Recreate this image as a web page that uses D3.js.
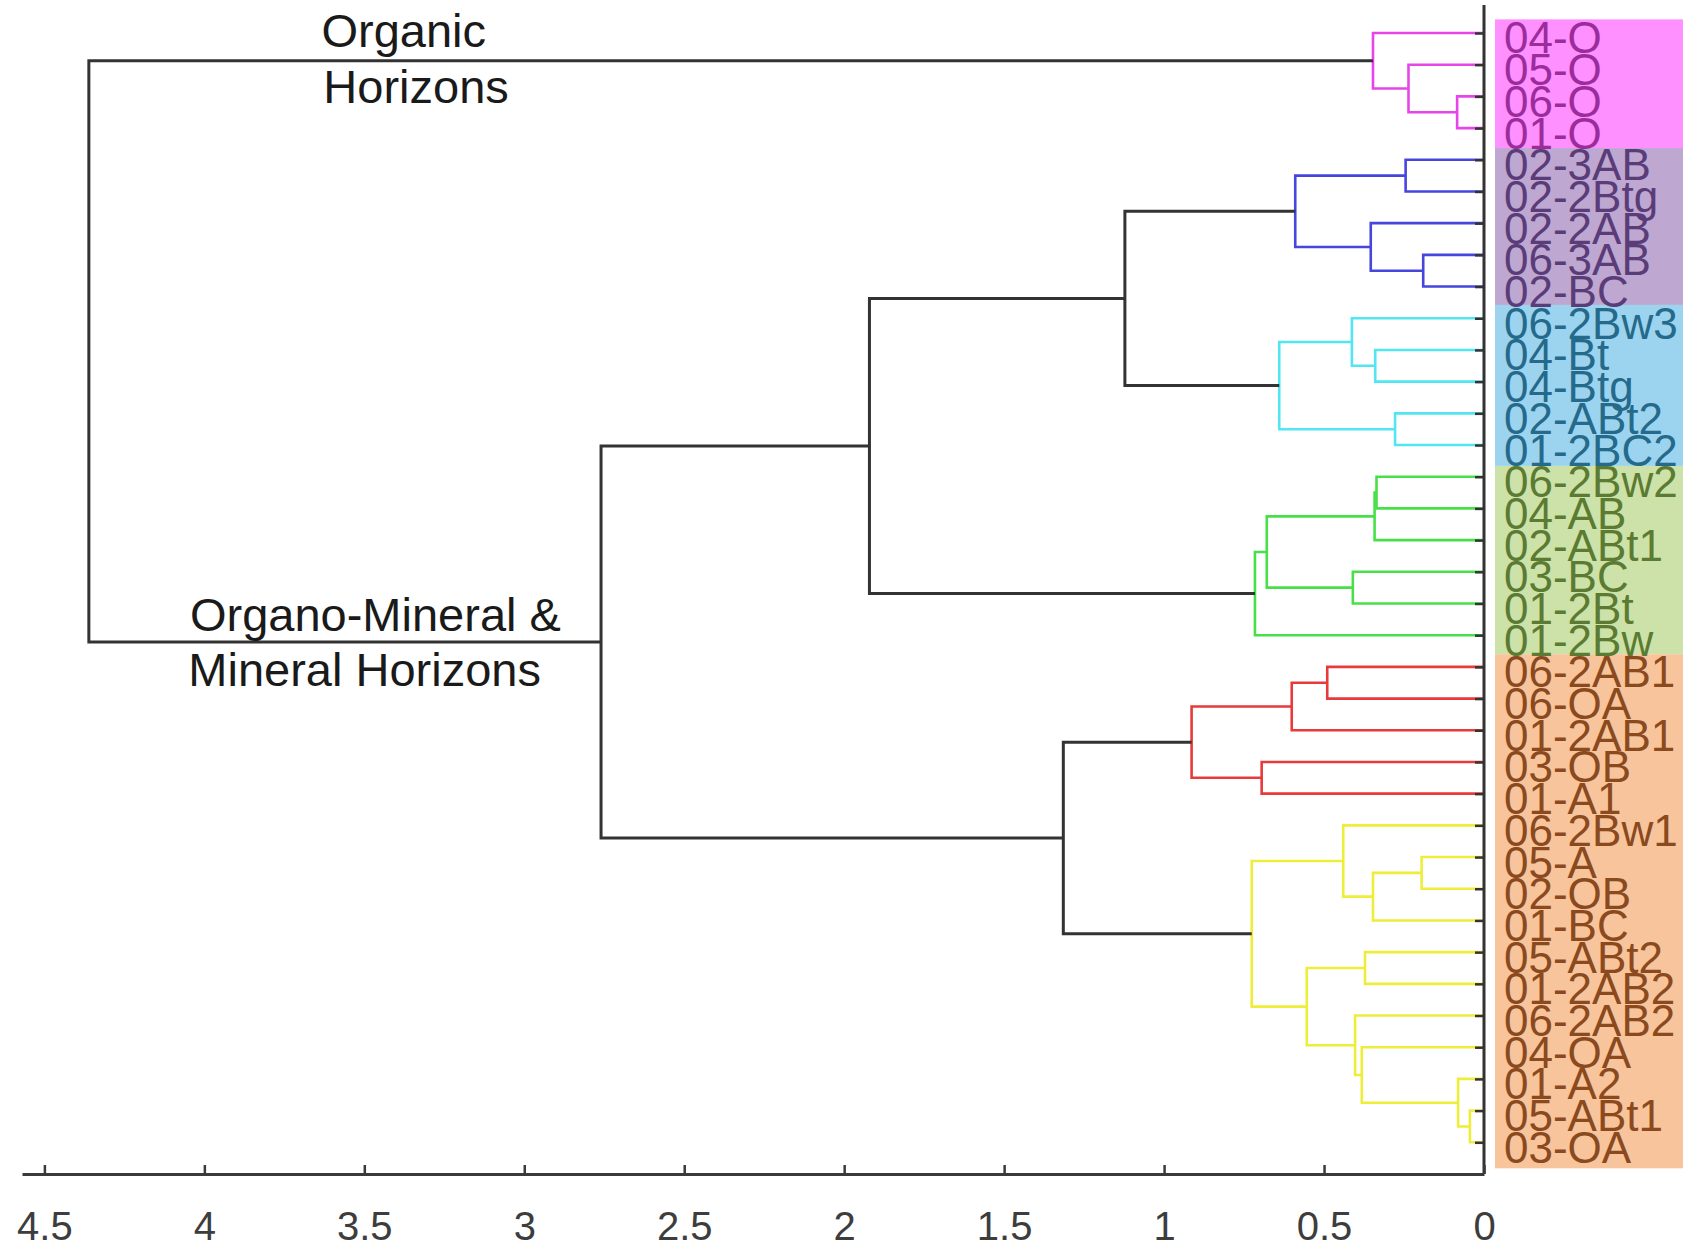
<!DOCTYPE html>
<html><head><meta charset="utf-8">
<script src="https://cdn.jsdelivr.net/npm/d3@7"></script>
<style>html,body{margin:0;padding:0;background:#fff;} svg{display:block;}</style>
</head><body>
<svg id="chart" width="1691" height="1257"></svg>
<script>
// ---------- DATA ----------
const leaves = ["04-O","05-O","06-O","01-O",
  "02-3AB","02-2Btg","02-2AB","06-3AB","02-BC",
  "06-2Bw3","04-Bt","04-Btg","02-ABt2","01-2BC2",
  "06-2Bw2","04-AB","02-ABt1","03-BC","01-2Bt","01-2Bw",
  "06-2AB1","06-OA","01-2AB1","03-OB","01-A1",
  "06-2Bw1","05-A","02-OB","01-BC","05-ABt2","01-2AB2","06-2AB2","04-OA","01-A2","05-ABt1","03-OA"];
// linkage rows: [childA, childB, height]; ids < 36 are leaves, ids >= 36 are earlier rows (36 + row index)
const mergeA = [2,1,0, 4,7,6,39, 10,9,12,44, 42, 14,48,17,49,51, 47, 20,54,23,55, 26,58,25,29,34,33,32,31,61,60, 57,53,38];
const mergeB = [3,36,37, 5,8,40,41, 11,43,13,45, 46, 15,16,18,50,19, 52, 21,22,24,56, 27,28,59,30,35,62,63,64,65,66, 67,68,69];
const mergeHeight = [0.084,0.236,0.347, 0.245,0.19,0.354,0.59, 0.34,0.413,0.278,0.64, 1.1225, 0.336,0.342,0.41,0.679,0.716, 1.921, 0.49,0.601,0.695,0.914, 0.195,0.347,0.44,0.372,0.044,0.081,0.382,0.403,0.554,0.726, 1.315,2.76,4.361];
const mergeCluster = ["M","M","M", "B","B","B","B", "C","C","C","C", "K", "G","G","G","G","G", "K", "R","R","R","R", "Y","Y","Y","Y","Y","Y","Y","Y","Y","Y", "K","K","K"];
const tickValues = [4.5,4,3.5,3,2.5,2,1.5,1,0.5,0];
const tickLabels = ["4.5","4","3.5","3","2.5","2","1.5","1","0.5","0"];
// label background groups (in leaf units, 1-based)
const groupStart = [0.57, 4.63, 9.58, 14.66, 20.6];
const groupEnd   = [4.63, 9.58, 14.66, 20.6, 36.82];
const annotations = ["Organic","Horizons","Organo-Mineral &","Mineral Horizons"];
const annotationValue = [3.634, 3.628, 4.045, 4.05];   // x position in axis units
const annotationLeaf  = [1.44, 3.2, 19.87, 21.6];      // baseline in leaf units

// ---------- STYLES ----------
const clusterColor = {M:"#e845e8", B:"#4646dc", C:"#52e6f0", G:"#48e048", R:"#e83a3a", Y:"#eeee3a", K:"#333333"};
const groupFill = ["#ff90ff","#bea7d1","#9cd4f0","#cde2a8","#f8c49c"];
const groupText = ["#9c2c9c","#5a3c78","#256a8a","#5b7b32","#8a4a1e"];

// ---------- SCALES ----------
const svg = d3.select("#chart");
const x = d3.scaleLinear().domain([4.57, 0]).range([22, 1484]);
const y = d3.scaleLinear().domain([0, 37]).range([1.3, 1174]);
const nLeaves = leaves.length;

// positions of nodes
const nodeY = [], nodeH = [];
leaves.forEach((d,i)=>{ nodeY[i] = i+1; nodeH[i] = 0; });
mergeA.forEach((a,k)=>{
  const b = mergeB[k], id = nLeaves + k;
  nodeY[id] = (nodeY[a] + nodeY[b]) / 2;
  nodeH[id] = mergeHeight[k];
});

// label backgrounds
svg.append("g").selectAll("rect").data(groupStart).join("rect")
  .attr("x", 1495).attr("width", 188)
  .attr("y", (d)=>y(d))
  .attr("height", (d,i)=>y(groupEnd[i]) - y(d))
  .attr("fill", (d,i)=>groupFill[i]);

// dendrogram links
const links = mergeA.map((a,k)=>({a, b:mergeB[k], k, c:mergeCluster[k]}));
const order = links.filter(l=>l.c!=="K").concat(links.filter(l=>l.c==="K"));
svg.append("g").attr("fill","none").selectAll("path").data(order).join("path")
  .attr("d", l=>{
    const p = d3.path();
    const h = mergeHeight[l.k];
    p.moveTo(x(nodeH[l.a]), y(nodeY[l.a]));
    p.lineTo(x(h), y(nodeY[l.a]));
    p.lineTo(x(h), y(nodeY[l.b]));
    p.lineTo(x(nodeH[l.b]), y(nodeY[l.b]));
    return p.toString();
  })
  .attr("stroke", l=>clusterColor[l.c])
  .attr("stroke-width", l=> l.c==="K" ? 3 : 2.6)
  .attr("stroke-linejoin","miter");

// group index for each leaf
function groupOf(i){ const p=i+1; for(let g=0; g<groupStart.length; g++){ if(p>groupStart[g] && p<groupEnd[g]) return g;} return 0; }

// right (leaf) axis
const yAxis = d3.axisRight(y).tickValues(leaves.map((d,i)=>i+1)).tickFormat(v=>leaves[v-1]).tickSize(-9).tickSizeOuter(0);
const gy = svg.append("g").attr("transform", `translate(${x(0)},0)`).call(yAxis);
gy.select(".domain").remove();
gy.selectAll(".tick line").attr("stroke","#333").attr("stroke-width",2.5);
gy.selectAll(".tick text")
  .attr("x", 20).attr("dy", "20px")
  .attr("font-family","'Liberation Sans', Arial, sans-serif")
  .attr("font-size", 44)
  .attr("fill", (v)=>groupText[groupOf(v-1)]);
svg.append("line").attr("x1", x(0)).attr("x2", x(0)).attr("y1", y(0.12)).attr("y2", y(37))
  .attr("stroke","#333").attr("stroke-width",3);

// bottom axis
const xAxis = d3.axisBottom(x).tickValues(tickValues).tickFormat((v,i)=>tickLabels[i]).tickSize(-9).tickSizeOuter(0);
const gx = svg.append("g").attr("transform", `translate(0,${y(37)})`).call(xAxis);
gx.select(".domain").attr("stroke","#3a3a3a").attr("stroke-width",3);
gx.selectAll(".tick line").attr("stroke","#3a3a3a").attr("stroke-width",2.5);
gx.selectAll(".tick text").attr("y", 66).attr("dy", 0)
  .attr("font-family","'Liberation Sans', Arial, sans-serif")
  .attr("font-size", 40).attr("fill","#3d3d3d");

// annotations
svg.append("g").selectAll("text").data(annotations).join("text")
  .attr("x", (d,i)=>x(annotationValue[i]))
  .attr("y", (d,i)=>y(annotationLeaf[i]))
  .attr("font-family","'Liberation Sans', Arial, sans-serif")
  .attr("font-size", 47).attr("fill","#1a1a1a")
  .text(d=>d);
</script>
</body></html>
